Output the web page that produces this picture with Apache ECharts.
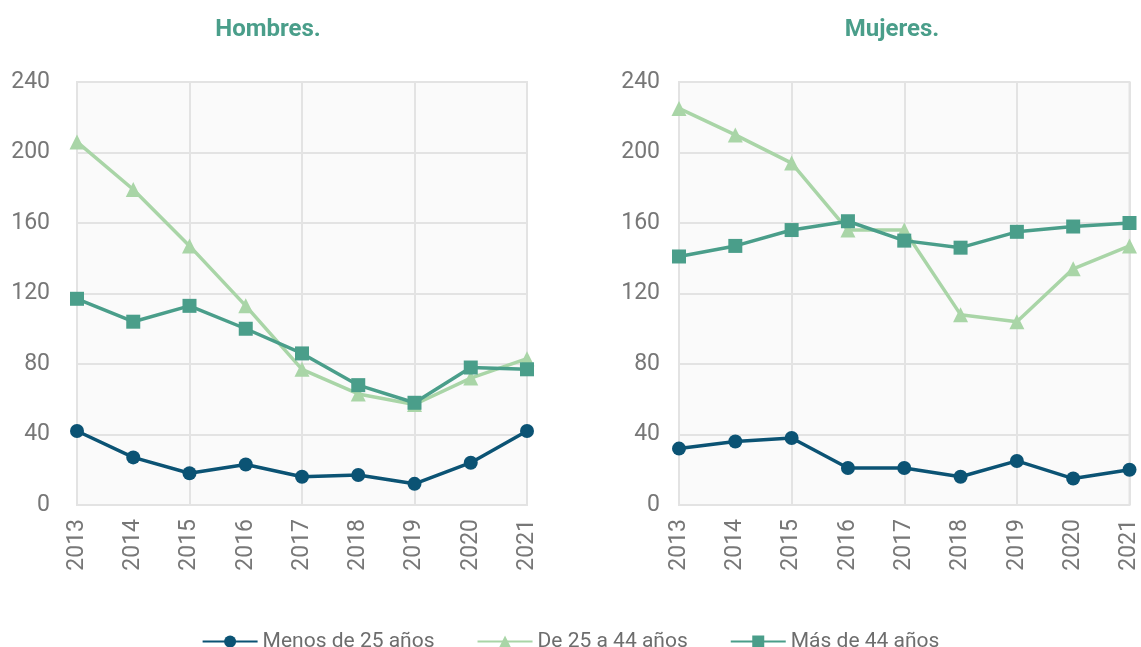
<!DOCTYPE html>
<html>
<head>
<meta charset="utf-8">
<script src="https://cdn.jsdelivr.net/npm/echarts@6/dist/echarts.min.js"></script>
<style>
  html, body { margin: 0; padding: 0; background: #ffffff; }
  #main { width: 1141px; height: 647px; }
</style>
</head>
<body>
<div id="main"></div>
<script>
// datos
var years = ['2013', '2014', '2015', '2016', '2017', '2018', '2019', '2020', '2021'];
var yTicks = [0, 40, 80, 120, 160, 200, 240];

var hombresMenos25 = [42, 27, 18, 23, 16, 17, 12, 24, 42];
var hombres25a44 = [206, 179, 147, 113, 77, 63, 57, 72, 83];
var hombresMas44 = [117, 104, 113, 100, 86, 68, 58, 78, 77];

var mujeresMenos25 = [32, 36, 38, 21, 21, 16, 25, 15, 20];
var mujeres25a44 = [225, 210, 194, 156, 156, 108, 104, 134, 147];
var mujeresMas44 = [141, 147, 156, 161, 150, 146, 155, 158, 160];

var names = ['Menos de 25 años', 'De 25 a 44 años', 'Más de 44 años'];
var colors = ['#0b5374', '#a9d5a7', '#4a9e8a'];
var symbols = ['circle', 'triangle', 'rect'];
var symbolSizes = [14, 15, 14];

var chart = echarts.init(document.getElementById('main'));

function xAxisFor(idx) {
  return {
    type: 'category',
    gridIndex: idx,
    data: years,
    boundaryGap: false,
    axisLine: { show: false },
    axisTick: { show: false },
    splitLine: { show: true, interval: 1, lineStyle: { color: '#e3e3e3', width: 2 } },
    axisLabel: {
      rotate: 90,
      margin: 14,
      color: '#777777',
      fontFamily: 'Roboto',
      fontSize: 23,
      interval: 0
    }
  };
}

function yAxisFor(idx, margin) {
  return {
    type: 'value',
    gridIndex: idx,
    min: yTicks[0],
    max: yTicks[yTicks.length - 1],
    interval: 40,
    axisLine: { show: false },
    axisTick: { show: false },
    splitLine: { lineStyle: { color: '#e3e3e3', width: 2 } },
    axisLabel: {
      margin: margin,
      color: '#777777',
      fontFamily: 'Roboto',
      fontSize: 23
    }
  };
}

function makeSeries(dataArr, idx) {
  return dataArr.map(function (d, i) {
    return {
      name: names[i],
      type: 'line',
      xAxisIndex: idx,
      yAxisIndex: idx,
      data: d,
      symbol: symbols[i],
      symbolSize: symbolSizes[i],
      showAllSymbol: true,
      z: i === 0 ? 4 : (i === 2 ? 3 : 2),
      lineStyle: { color: colors[i], width: 3.5 },
      itemStyle: { color: colors[i] }
    };
  });
}

var option = {
  animation: false,
  backgroundColor: '#ffffff',
  title: [
    {
      text: 'Hombres.',
      left: 263,
      top: 13,
      textAlign: 'center',
      textStyle: { color: '#4a9e8a', fontFamily: 'Roboto', fontWeight: 'bold', fontSize: 24 }
    },
    {
      text: 'Mujeres.',
      left: 887,
      top: 13,
      textAlign: 'center',
      textStyle: { color: '#4a9e8a', fontFamily: 'Roboto', fontWeight: 'bold', fontSize: 24 }
    }
  ],
  legend: {
    data: names,
    top: 626,
    left: 'center',
    itemWidth: 55,
    itemHeight: 15,
    itemGap: 42,
    textStyle: { color: '#6d6d6d', fontFamily: 'Roboto', fontSize: 21 }
  },
  grid: [
    {
      left: 77, right: 614, top: 82, bottom: 142,
      show: true, backgroundColor: '#fafafa', borderColor: '#e3e3e3', borderWidth: 2
    },
    {
      left: 679, right: 8, top: 82, bottom: 142,
      show: true, backgroundColor: '#fafafa', borderColor: '#e3e3e3', borderWidth: 2
    }
  ],
  xAxis: [xAxisFor(0), xAxisFor(1)],
  yAxis: [yAxisFor(0, 27), yAxisFor(1, 19)],
  series: makeSeries([hombresMenos25, hombres25a44, hombresMas44], 0)
    .concat(makeSeries([mujeresMenos25, mujeres25a44, mujeresMas44], 1))
};

chart.setOption(option);
</script>
</body>
</html>
